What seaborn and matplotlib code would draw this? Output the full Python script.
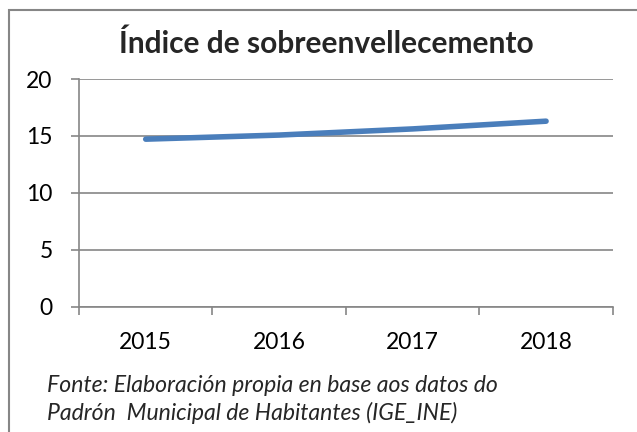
import matplotlib
matplotlib.use("Agg")
import matplotlib.pyplot as plt
import seaborn as sns
import pandas as pd
from matplotlib.patches import Rectangle

years = ["2015", "2016", "2017", "2018"]
values = [14.72, 15.08, 15.62, 16.3]
yticks = [0, 5, 10, 15, 20]
title = "Índice de sobreenvellecemento"
source_lines = ["Fonte: Elaboración propia en base aos datos do",
                "Padrón  Municipal de Habitantes (IGE_INE)"]

sns.set_style("white")
plt.rcParams['font.family'] = ['Lato', 'DejaVu Sans']

df = pd.DataFrame({"year": years, "value": values})
df["pos"] = range(len(years))

fig = plt.figure(figsize=(6.37, 4.32), dpi=100)
ax = fig.add_axes([0.124, 0.290, 0.838, 0.527])

sns.lineplot(data=df, x="pos", y="value", ax=ax, color="#4a7ebb", linewidth=4,
             solid_capstyle="round")

grid_c = "#868686"
ax.set_xlim(-0.5, len(years) - 0.5)
ax.set_ylim(0, 20)
ax.set_yticks(yticks)
ax.set_yticklabels([str(t) for t in yticks])
ax.set_xticks(range(len(years)))
ax.set_xticklabels(years)
ax.set_xticks([i - 0.5 for i in range(len(years) + 1)], minor=True)
ax.tick_params(axis="x", which="major", bottom=True, length=0, pad=18.5, labelsize=16.5,
               colors="black")
ax.tick_params(axis="x", which="minor", bottom=True, length=6, width=1.2, color=grid_c,
               direction="out")
ax.tick_params(axis="y", which="major", left=True, length=6, width=1.2, color=grid_c,
               direction="out", labelsize=16.5, pad=13, labelcolor="black")
ax.set_xlabel("")
ax.set_ylabel("")
ax.yaxis.grid(True, color=grid_c, linewidth=1.2)
ax.set_axisbelow(True)
for s in ["top", "right"]:
    ax.spines[s].set_visible(False)
for s in ["left", "bottom"]:
    ax.spines[s].set_color(grid_c)
    ax.spines[s].set_linewidth(1.2)

fig.text(0.5126, 0.877, title, ha="center", va="baseline", fontsize=21.5, fontweight="bold")
fig.text(0.074, 0.0933, source_lines[0], ha="left", va="baseline", fontsize=16.6,
         style="italic")
fig.text(0.074, 0.0278, source_lines[1], ha="left", va="baseline", fontsize=16.6,
         style="italic")

fig.patches.append(Rectangle((0.0149, -0.05), 1.1, 1.027, transform=fig.transFigure,
                             fill=False, edgecolor=grid_c, linewidth=1.5, clip_on=True))

fig.savefig("out.png", dpi=100)
